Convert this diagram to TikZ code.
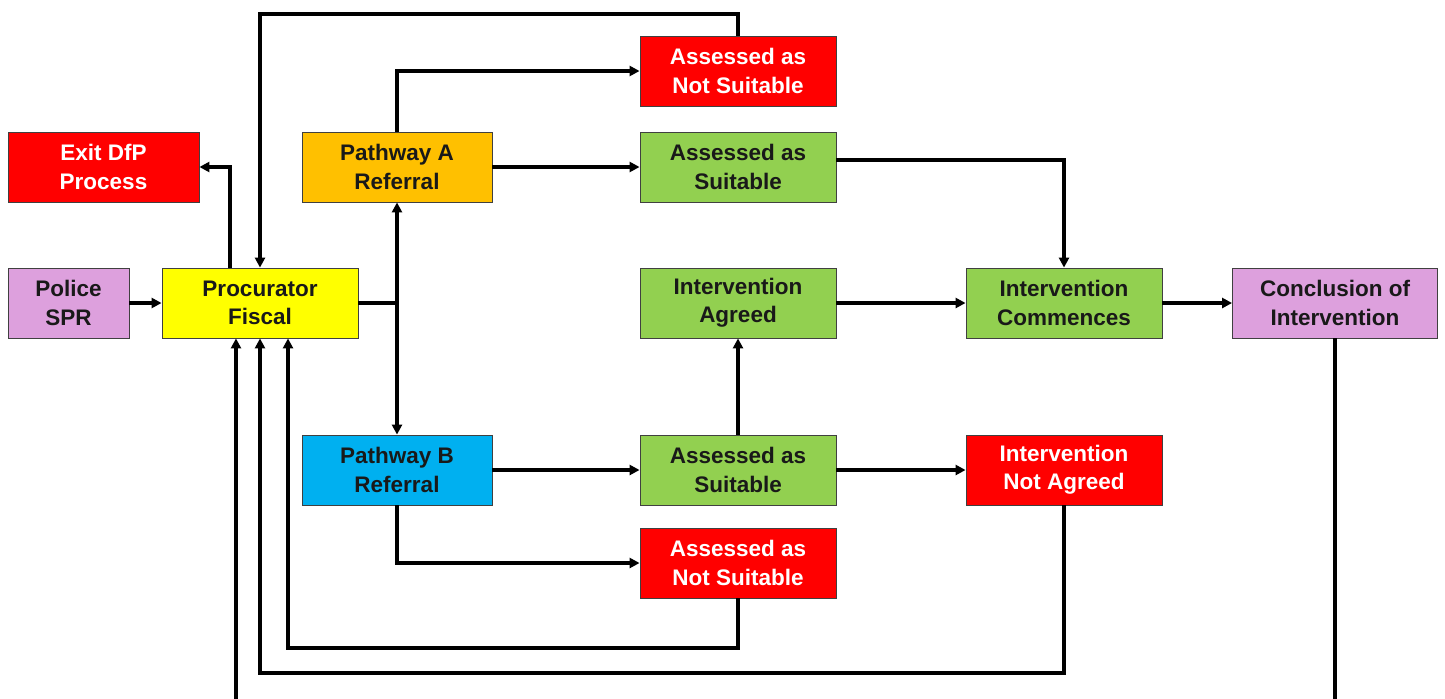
\documentclass[tikz,border=0pt]{standalone}
\usepackage{fontspec}
\setmainfont{Liberation Sans}
\usetikzlibrary{arrows.meta}

\definecolor{boxred}{HTML}{FF0000}
\definecolor{boxgreen}{HTML}{92D050}
\definecolor{boxyellow}{HTML}{FFFF00}
\definecolor{boxorange}{HTML}{FFC000}
\definecolor{boxblue}{HTML}{00B0F0}
\definecolor{boxpink}{HTML}{DDA0DD}

\begin{document}
\begin{tikzpicture}[x = 0.025cm, y = -0.025cm,
        every node/.style = {draw = black!75, line width = 0.6pt, align = center,
                font = \fontsize{16}{20}\selectfont\bfseries, text = black!90,
                minimum width = 4.9cm, minimum height = 1.75cm, inner sep = 0pt},
        redbox/.style = {fill = boxred, text = white},
        greenbox/.style = {fill = boxgreen},
        pinkbox/.style = {fill = boxpink},
        flow/.style = {line width = 0.1cm},
        arr/.style = {flow, -{Triangle[length = 7pt, width = 7pt]}},
        twoarr/.style = {flow, {Triangle[length = 7pt, width = 7pt]}-{Triangle[length = 7pt, width = 7pt]}}]

        \useasboundingbox (0, 0) rectangle (1445, 698);

        % boxes
        \node[redbox, minimum width = 4.775cm] (exit) at (103.5, 167) {Exit DfP\\Process};
        \node[pinkbox, minimum width = 3.025cm] (police) at (68.5, 303) {Police\\SPR};
        \node[fill = boxyellow] (proc) at (260, 303) {Procurator\\Fiscal};
        \node[fill = boxorange, minimum width = 4.75cm] (pathA) at (397, 167) {Pathway A\\Referral};
        \node[fill = boxblue, minimum width = 4.75cm] (pathB) at (397, 470) {Pathway B\\Referral};

        \node[redbox] (notsuitA) at (738, 71) {Assessed as\\Not Suitable};
        \node[greenbox] (suitA) at (738, 167) {Assessed as\\Suitable};
        \node[greenbox] (agreed) at (738, 303) {Intervention\\Agreed};
        \node[greenbox] (suitB) at (738, 470) {Assessed as\\Suitable};
        \node[redbox] (notsuitB) at (738, 563) {Assessed as\\Not Suitable};

        \node[greenbox] (commences) at (1064, 303) {Intervention\\Commences};
        \node[redbox] (notagreed) at (1064, 470) {Intervention\\Not Agreed};
        \node[pinkbox, minimum width = 5.125cm] (concl) at (1335, 303) {Conclusion of\\Intervention};

        % connectors
        \draw[arr] (police) -- (proc);
        \draw[arr] ([xshift = -0.75cm]proc.north) |- (exit.east);
        \draw[arr] (notsuitA.north) -- ++(0, -22) -| (proc.north);

        \draw[flow] (proc.east) -- (proc.east -| pathA.south);
        \draw[twoarr] (pathA.south) -- (pathB.north);

        \draw[arr] (pathA.north) |- (notsuitA.west);
        \draw[arr] (pathA) -- (suitA);
        \draw[arr] ([yshift = 0.175cm]suitA.east) -| (commences.north);

        \draw[arr] (agreed) -- (commences);
        \draw[arr] (commences) -- (concl);

        \draw[arr] (pathB) -- (suitB);
        \draw[arr] (suitB) -- (agreed);
        \draw[arr] (suitB) -- (notagreed);
        \draw[arr] (pathB.south) |- (notsuitB.west);

        % back to the fiscal
        \draw[arr] (notsuitB.south) -- ++(0, 50) -| ([xshift = 0.7cm]proc.south);
        \draw[arr] (notagreed.south) -- ++(0, 168) -| (proc.south);
        \draw[arr] (concl.south) -- ++(0, 400) -| ([xshift = -0.6cm]proc.south);

    \end{tikzpicture}
\end{document}
